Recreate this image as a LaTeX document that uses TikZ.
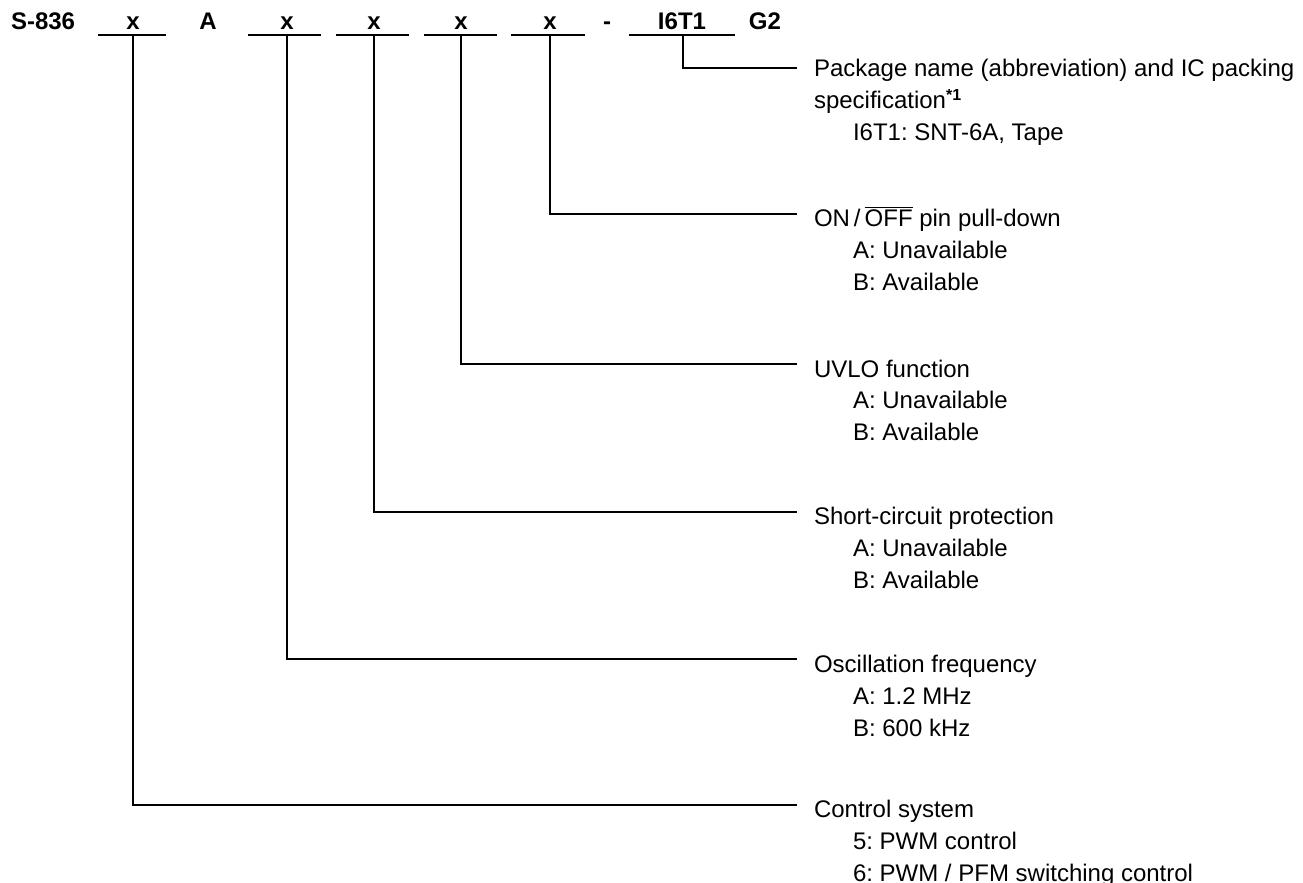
\documentclass[tikz,border=0pt]{standalone}
\usepackage{fontspec}
\setmainfont{Liberation Sans}
\frenchspacing
\newcommand{\opt}[1]{\hspace*{19.5pt}#1}
\begin{document}
\begin{tikzpicture}[x=0.5pt,y=-0.5pt,line width=1pt,
    code/.style={anchor=base,inner sep=0pt,font=\bfseries\fontsize{12}{16}\selectfont},
    descr/.style={anchor=base west,inner sep=0pt,font=\fontsize{12}{16}\selectfont}]
  \useasboundingbox (0,0) rectangle (1303,883);
  % product code
  \node[code,anchor=base west] (series) at (10,30) {S-836};
  \node[code] (ctl) at (133,30) {x};
  \node[code] (fixA) at (208,30) {A};
  \node[code] (osc) at (287,30) {x};
  \node[code] (scp) at (374,30) {x};
  \node[code] (uvlo) at (461,30) {x};
  \node[code] (pull) at (550,30) {x};
  \node[code] (dash) at (607,30) {-};
  \node[code] (pkg) at (682,30) {I6T1};
  \node[code] (grn) at (765,30) {G2};
  \foreach \a/\b in {98/166,248/321,336/409,424/497,511/585,629/735}
    \draw (\a,35) -- (\b,35);
  \coordinate (ctl-b) at (133,35);
  \coordinate (osc-b) at (287,35);
  \coordinate (scp-b) at (374,35);
  \coordinate (uvlo-b) at (461,35);
  \coordinate (pull-b) at (550,35);
  \coordinate (pkg-b) at (683,35);
  % descriptions
  \node[descr] (pkg-d) at (813,77) {\begin{tabular}[t]{@{}l@{}}
      Package name (abbreviation) and IC packing\\
      specification\textsuperscript{\bfseries *1}\\
      \opt{I6T1: SNT-6A, Tape}\end{tabular}};
  \node[descr] (pull-d) at (813,227) {\begin{tabular}[t]{@{}l@{}}
      ON\,/\,$\overline{\mbox{OFF}}$ pin pull-down\\
      \opt{A: Unavailable}\\
      \opt{B: Available}\end{tabular}};
  \node[descr] (uvlo-d) at (813,377) {\begin{tabular}[t]{@{}l@{}}
      UVLO function\\
      \opt{A: Unavailable}\\
      \opt{B: Available}\end{tabular}};
  \node[descr] (scp-d) at (813,524) {\begin{tabular}[t]{@{}l@{}}
      Short-circuit protection\\
      \opt{A: Unavailable}\\
      \opt{B: Available}\end{tabular}};
  \node[descr] (osc-d) at (813,672) {\begin{tabular}[t]{@{}l@{}}
      Oscillation frequency\\
      \opt{A: 1.2 MHz}\\
      \opt{B: 600 kHz}\end{tabular}};
  \node[descr] (ctl-d) at (813,817) {\begin{tabular}[t]{@{}l@{}}
      Control system\\
      \opt{5: PWM control}\\
      \opt{6: PWM / PFM switching control}\end{tabular}};
  \coordinate (pkg-e) at (797,68);
  \coordinate (pull-e) at (797,214);
  \coordinate (uvlo-e) at (797,364);
  \coordinate (scp-e) at (797,512);
  \coordinate (osc-e) at (797,659);
  \coordinate (ctl-e) at (797,805);
  \foreach \n in {pkg,pull,uvlo,scp,osc,ctl}
    \draw (\n-b) |- (\n-e);
\end{tikzpicture}
\end{document}
